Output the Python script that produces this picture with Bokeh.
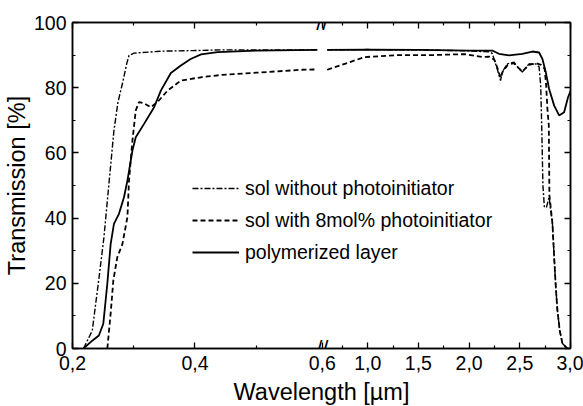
import numpy as np
from bokeh.plotting import figure
from bokeh.models import LinearAxis, FixedTicker, Legend, LegendItem, Label, Range1d
from bokeh.embed import file_html
from bokeh.resources import INLINE

# ---------------- data (wavelength in µm, transmission in %) ----------------
# sol without photoinitiator (dash-dot)
sol_left_wl = [0.218, 0.2323, 0.2431, 0.2513, 0.2595, 0.2677, 0.2743, 0.2815, 0.2885,
               0.2923, 0.3005, 0.344, 0.399, 0.4426, 0.5, 0.6]
sol_left_t = [0, 5.5, 21.4, 34, 50.5, 66.9, 75.6, 81.2, 87.3,
              89.9, 90.6, 91.2, 91.4, 91.6, 91.6, 91.6]
sol_right_wl = [0.6, 1.0, 1.5, 2.0, 2.2, 2.228, 2.277, 2.31, 2.327, 2.376, 2.443, 2.492,
                2.525, 2.591, 2.657, 2.69, 2.706, 2.716, 2.728, 2.742, 2.762, 2.789,
                2.822, 2.839, 2.855, 2.871, 2.894, 2.921, 2.97, 3.0]
sol_right_t = [91.6, 91.7, 91.6, 91.3, 91.0, 90.5, 85.8, 82.2, 84.8, 87.3, 87.8, 85.8,
               84.8, 87.3, 87.3, 86.4, 80.7, 68.4, 50, 43.5, 43.2, 46.4,
               38.3, 28, 18.8, 11.7, 5.5, 1.5, 0, 0]

# sol with 8mol% photoinitiator (dashed)
pi_left_wl = [0.2569, 0.2623, 0.2667, 0.2732, 0.2815, 0.2897, 0.2923, 0.2979, 0.3033,
              0.3087, 0.3169, 0.3279, 0.3389, 0.3552, 0.377, 0.4098, 0.4426, 0.5, 0.574, 0.6]
pi_left_t = [0, 10.7, 20.9, 28, 32, 40.3, 51.5, 63.8, 73,
             75.6, 75.2, 74, 75.6, 79.1, 82.2, 83.2, 83.9, 84.6, 85.5, 85.6]
pi_right_wl = [0.6, 0.97, 1.3, 1.63, 1.96, 2.13, 2.2, 2.25, 2.28, 2.31, 2.33, 2.38, 2.44,
               2.49, 2.525, 2.59, 2.66, 2.71, 2.745, 2.76, 2.772, 2.786, 2.792, 2.822,
               2.839, 2.855, 2.871, 2.894, 2.921, 2.97, 3.0]
pi_right_t = [85.5, 89.4, 90.0, 90.0, 90.3, 89.4, 89.5, 88.5, 86, 83, 84.8, 87, 87.5,
              86, 85, 87, 87.5, 87, 85.8, 80.7, 73.6, 68.4, 47, 38.3,
              28, 18.8, 11.7, 5.5, 1.5, 0, 0]

# polymerized layer (solid)
poly_left_wl = [0.218, 0.2323, 0.2431, 0.2503, 0.2569, 0.2623, 0.2677, 0.2759, 0.2841,
                0.2897, 0.2979, 0.3033, 0.3169, 0.3333, 0.3443, 0.3607, 0.377, 0.393,
                0.41, 0.437, 0.5, 0.6]
poly_left_t = [0, 2.4, 4, 7.6, 19.9, 32, 38.2, 41.3, 46.4,
               51.5, 60.7, 64.8, 68.9, 74, 79.1, 84.5, 86.8, 88.8,
               90.2, 90.9, 91.4, 91.6]
poly_right_wl = [0.6, 1.0, 1.5, 2.0, 2.228, 2.294, 2.393, 2.525, 2.624, 2.69, 2.723,
                 2.756, 2.789, 2.839, 2.888, 2.937, 2.975, 3.0]
poly_right_t = [91.6, 91.7, 91.6, 91.4, 91.4, 90.4, 89.9, 90.4, 91.1, 90.8, 88.8,
                84.8, 79.6, 74.5, 71.5, 72.5, 77, 79]

labels = ["sol without photoinitiator", "sol with 8mol% photoinitiator", "polymerized layer"]

left_ticks = [0.2, 0.4]
left_minor = [0.3, 0.5]
right_ticks = [1.0, 1.5, 2.0, 2.5, 3.0]
right_minor = [0.75, 1.25, 1.75, 2.25, 2.75]
break_tick = 0.6
y_ticks = [0, 20, 40, 60, 80, 100]
y_minor = [10, 30, 50, 70, 90]

# ---------------- broken x scale ----------------
BREAK = 0.6
GAP = 0.016
RIGHT_SCALE = 0.1656


def left_x(w):
    return np.asarray(w, dtype=float)


def right_x(w):
    return BREAK + GAP + (np.asarray(w, dtype=float) - BREAK) * RIGHT_SCALE


def joined(lw, lt, rw, rt):
    xs = np.concatenate([left_x(lw), [np.nan], right_x(rw)])
    ys = np.concatenate([np.asarray(lt, float), [np.nan], np.asarray(rt, float)])
    return xs, ys


FONT = "Liberation Sans"

p = figure(frame_width=498, frame_height=326,
           x_range=Range1d(0.2, float(right_x(3.0))), y_range=Range1d(0, 100),
           output_backend="svg", toolbar_location=None,
           min_border_left=72, min_border_right=13, min_border_top=22, min_border_bottom=58,
           x_axis_type=None, y_axis_type=None)
p.xgrid.visible = False
p.ygrid.visible = False
p.outline_line_color = "black"
p.outline_line_width = 1.5
p.background_fill_color = "white"
p.border_fill_color = "white"

r1 = p.line(*joined(sol_left_wl, sol_left_t, sol_right_wl, sol_right_t),
            line_color="black", line_width=1.4, line_dash="6 2 2 2")
r2 = p.line(*joined(pi_left_wl, pi_left_t, pi_right_wl, pi_right_t),
            line_color="black", line_width=1.8, line_dash="5 3")
r3 = p.line(*joined(poly_left_wl, poly_left_t, poly_right_wl, poly_right_t),
            line_color="black", line_width=1.8)

# x ticks
def r4(v):
    return round(float(v), 5)

xt_major = [r4(left_x(t)) for t in left_ticks] + [r4(BREAK + GAP / 2)] + [r4(right_x(t)) for t in right_ticks]
xt_labels = [f"{t:.1f}".replace(".", ",") for t in left_ticks + [break_tick] + right_ticks]
xt_minor = [r4(left_x(t)) for t in left_minor] + [r4(right_x(t)) for t in right_minor]
x_overrides = {k: v for k, v in zip(xt_major, xt_labels)}


def style_axis(ax, show_labels):
    ax.axis_line_width = 1.5
    ax.axis_line_color = "black"
    ax.major_tick_line_color = "black"
    ax.minor_tick_line_color = "black"
    ax.major_tick_in = 6
    ax.major_tick_out = 0
    ax.minor_tick_in = 3
    ax.minor_tick_out = 0
    ax.major_tick_line_width = 1.3
    ax.minor_tick_line_width = 1.2
    ax.major_label_text_font = FONT
    ax.axis_label_text_font = FONT
    ax.axis_label_text_font_style = "normal"
    ax.axis_label_text_color = "black"
    if show_labels:
        ax.major_label_text_font_size = "19.5px"
        ax.major_label_text_color = "black"
        ax.axis_label_text_font_size = "23.5px"
    else:
        ax.major_label_text_font_size = "1px"
        ax.major_label_text_color = None
        ax.major_label_standoff = 0


xb = LinearAxis(ticker=FixedTicker(ticks=xt_major, minor_ticks=xt_minor),
                axis_label="Wavelength [µm]")
xb.major_label_overrides = x_overrides
style_axis(xb, True)
xb.major_label_standoff = 7
xb.axis_label_standoff = 6
p.add_layout(xb, "below")

xa = LinearAxis(ticker=FixedTicker(ticks=xt_major, minor_ticks=xt_minor))
style_axis(xa, False)
p.add_layout(xa, "above")

yl = LinearAxis(ticker=FixedTicker(ticks=y_ticks, minor_ticks=y_minor),
                axis_label="Transmission [%]")
style_axis(yl, True)
yl.major_label_standoff = 6
yl.axis_label_standoff = 1
p.add_layout(yl, "left")

yr = LinearAxis(ticker=FixedTicker(ticks=y_ticks, minor_ticks=y_minor))
style_axis(yr, False)
p.add_layout(yr, "right")

# break marks
for yv in (100, 0):
    p.add_layout(Label(x=BREAK + GAP / 2, y=yv, text="//", text_align="center",
                       text_baseline="middle", text_font=FONT, text_font_size="22px",
                       text_color="black"))

legend = Legend(items=[LegendItem(label=labels[0], renderers=[r1]),
                       LegendItem(label=labels[1], renderers=[r2]),
                       LegendItem(label=labels[2], renderers=[r3])],
                location=(120, 80), padding=0, margin=0, spacing=0,
                glyph_width=47, glyph_height=32, label_height=32, label_standoff=6,
                label_text_font=FONT, label_text_font_size="19.5px",
                label_text_color="black",
                border_line_alpha=0, background_fill_alpha=0)
p.add_layout(legend)

open("out.html", "w").write(file_html(p, INLINE))
